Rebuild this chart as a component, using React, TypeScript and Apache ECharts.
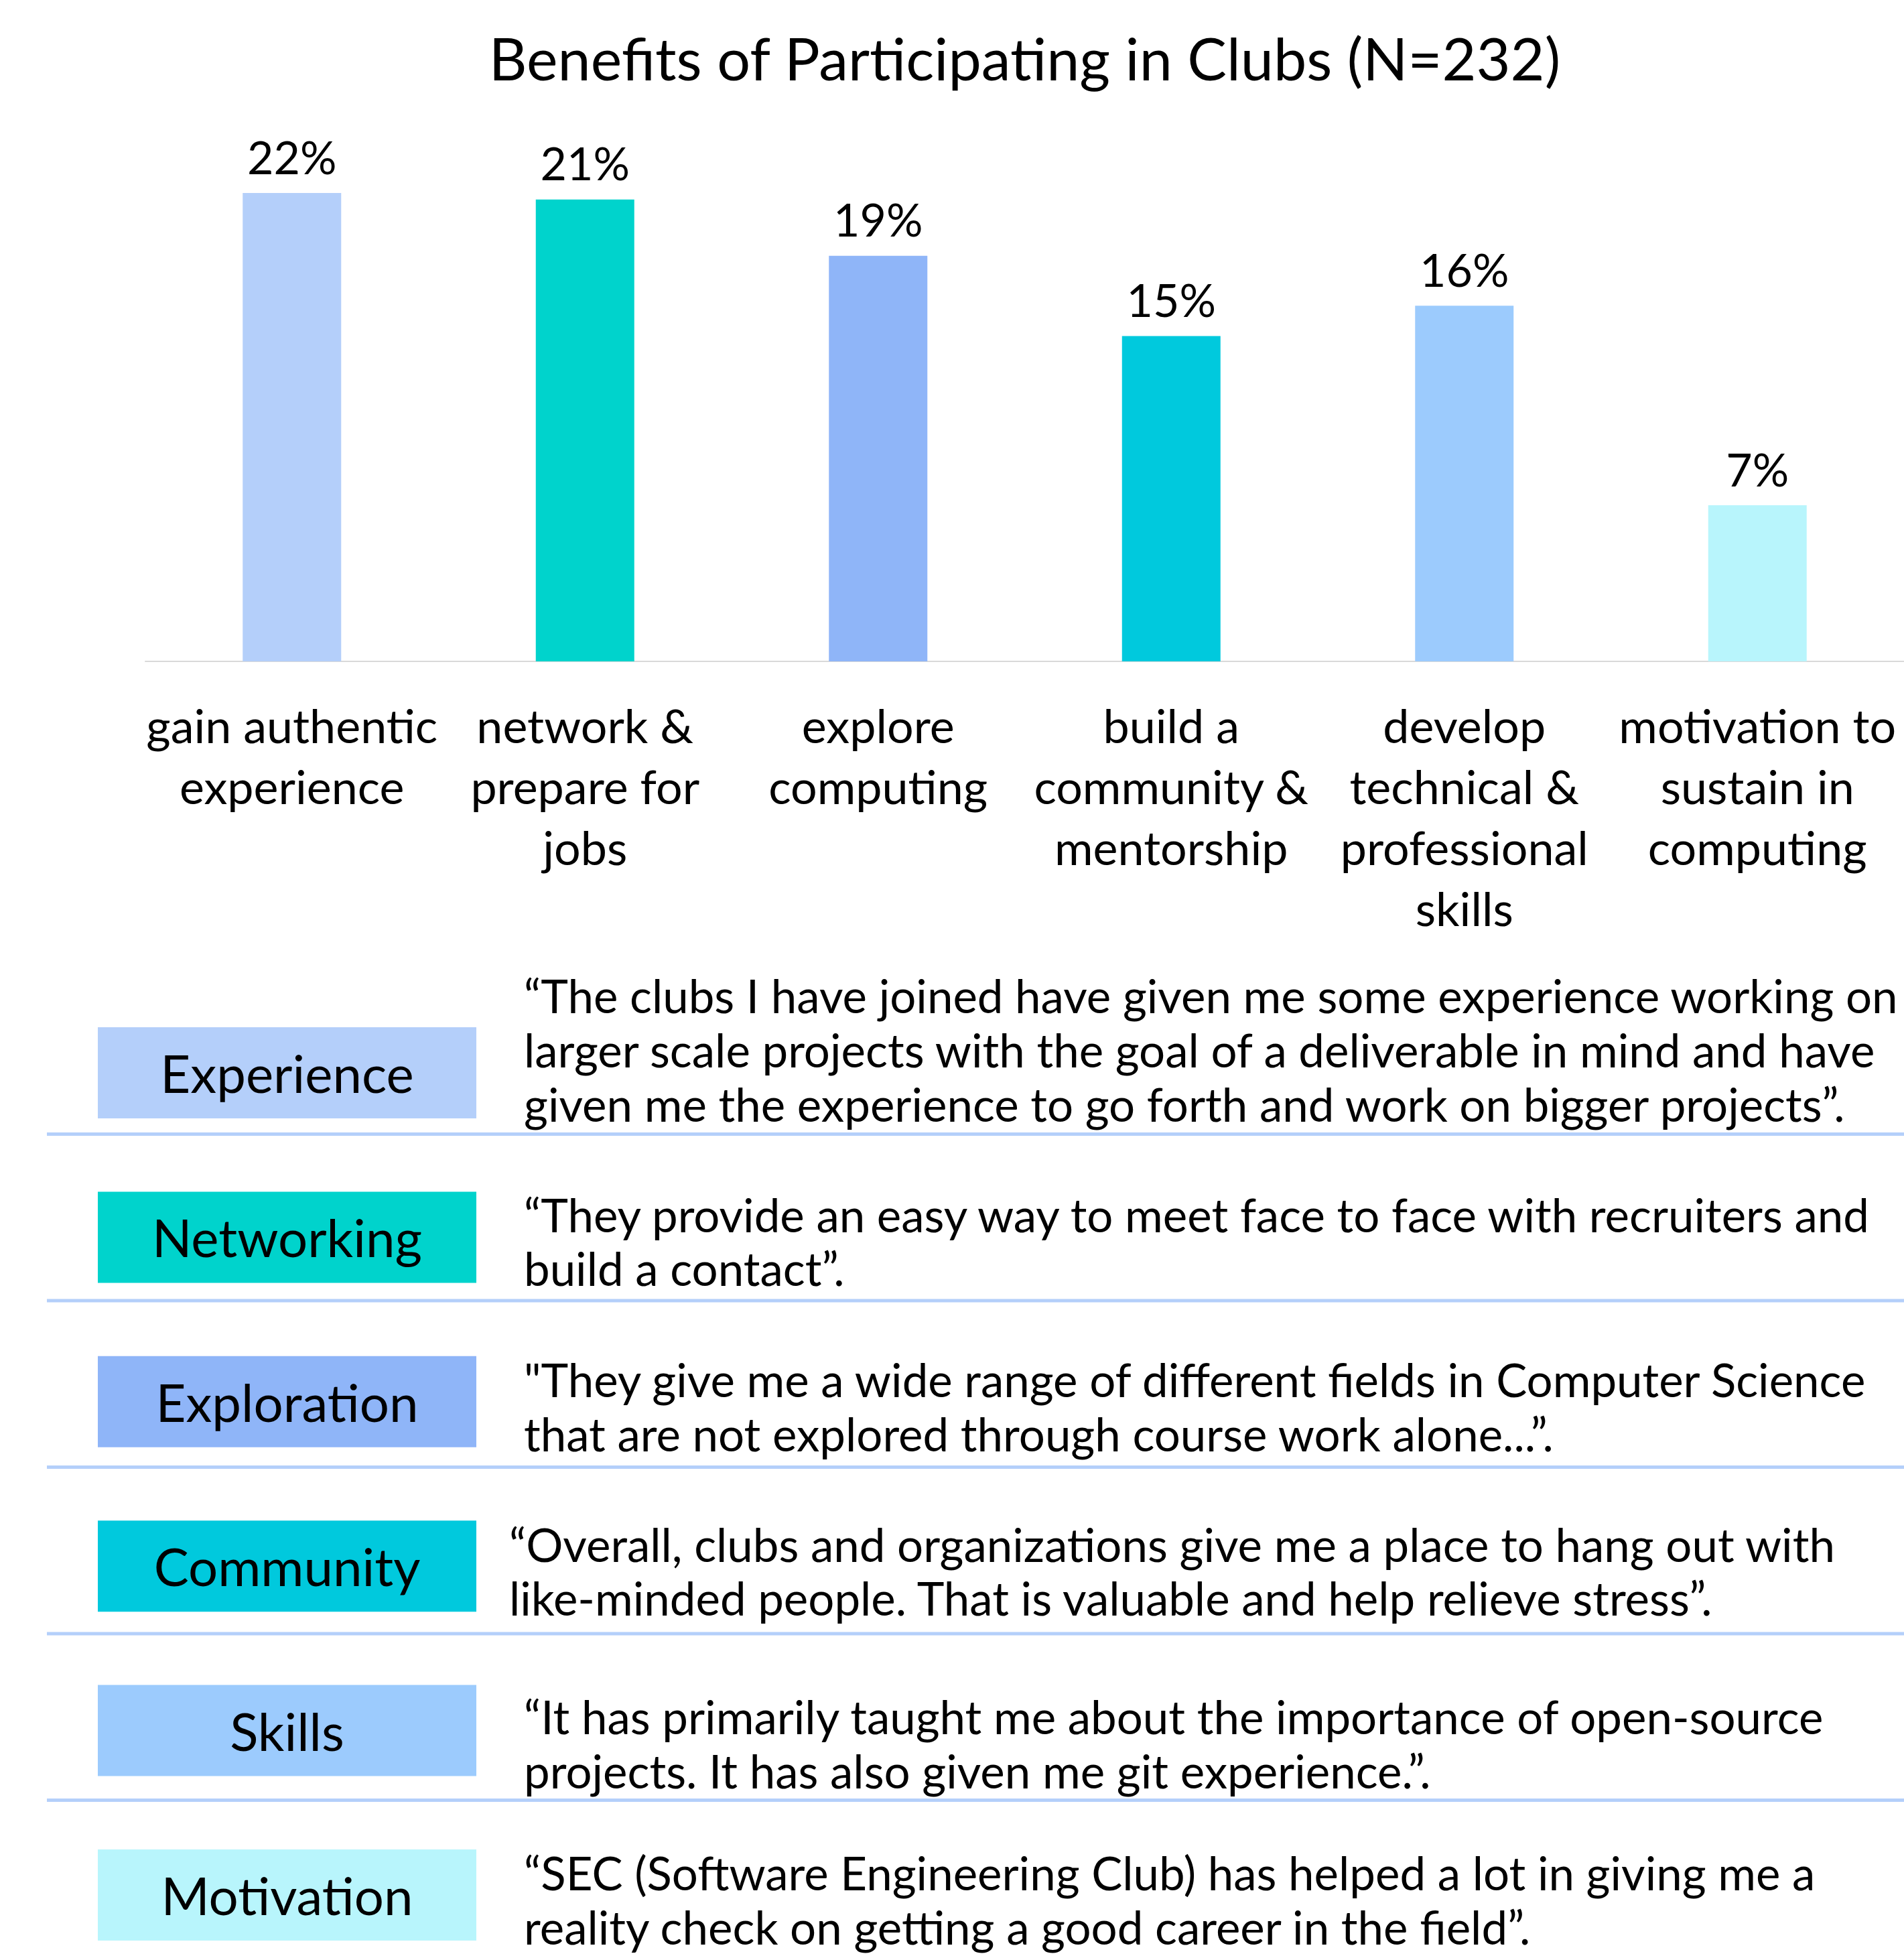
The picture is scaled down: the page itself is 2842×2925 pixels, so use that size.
import React, { useEffect, useRef } from "react";
import * as echarts from "echarts";

const titleText = "Benefits of Participating in Clubs (N=232)";
const categories = [
  "gain authentic\nexperience",
  "network &\nprepare for\njobs",
  "explore\ncomputing",
  "build a\ncommunity &\nmentorship",
  "develop\ntechnical &\nprofessional\nskills",
  "motivation to\nsustain in\ncomputing",
];
const shares = [21.6, 21.3, 18.7, 15.0, 16.4, 7.2];
const themeColors = ["#B4CFFA", "#00D3CC", "#8FB5F8", "#00C9DD", "#9CCBFD", "#B8F5FC"];
const themes = ["Experience", "Networking", "Exploration", "Community", "Skills", "Motivation"];
const quotes = [
  [
    "\u201CThe clubs I have joined have given me some experience working on",
    "larger scale projects with the goal of a deliverable in mind and have",
    "given me the experience to go forth and work on bigger projects\u201D.",
  ],
  [
    "\u201CThey provide an easy way to meet face to face with recruiters and",
    "build a contact\u201D.",
  ],
  [
    "\"They give me a wide range of different fields in Computer Science",
    "that are not explored through course work alone...\u201D.",
  ],
  [
    "\u201COverall, clubs and organizations give me a place to hang out with",
    "like-minded people. That is valuable and help relieve stress\u201D.",
  ],
  [
    "\u201CIt has primarily taught me about the importance of open-source",
    "projects. It has also given me git experience.\u201D.",
  ],
  [
    "\u201CSEC (Software Engineering Club) has helped a lot in giving me a",
    "reality check on getting a good career in the field\u201D.",
  ],
];

// layout (pixels)
const W = 2842;
const H = 2925;
const FONT = "Lato, 'Noto Sans', sans-serif";
const gridLeft = 217;
const axisY = 987;
const yMax = 25;
const gridTop = 178;
const boxX = 146;
const boxW = 565;
const boxH = 136;
const boxTop0 = 1533;
const boxStep = 245.4;
const sepTop0 = 1690;
const sepStep = 248.5;
const quoteX = [782, 782, 782, 760, 782, 782];
const quoteBase = [1510, 1837, 2083, 2329, 2586, 2819];
const quoteGap = [81, 80, 81, 80, 81, 81];
const quoteSize = 69;
const quoteCentral = 0.35;

export default function App() {
  const ref = useRef<HTMLDivElement>(null);
  useEffect(() => {
    if (!ref.current) return;
    const chart = echarts.init(ref.current, undefined, { renderer: "svg" });
    const graphic: any[] = [];
    graphic.push({
      type: "text",
      x: gridLeft + (W - gridLeft) / 2,
      y: 86,
      style: {
        text: titleText,
        fontFamily: FONT,
        fontSize: 88,
        fill: "#000",
        textAlign: "center",
        textVerticalAlign: "middle",
      },
    });
    for (let i = 0; i < themes.length - 1; i++) {
      graphic.push({
        type: "rect",
        shape: { x: 70, y: sepTop0 + sepStep * i, width: W - 70, height: 5 },
        style: { fill: "#B4CFFA" },
      });
    }
    themes.forEach((t, i) => {
      const top = boxTop0 + boxStep * i;
      graphic.push({
        type: "rect",
        shape: { x: boxX, y: top, width: boxW, height: boxH },
        style: { fill: themeColors[i] },
      });
      graphic.push({
        type: "text",
        x: boxX + boxW / 2,
        y: top + boxH / 2,
        style: {
          text: t,
          fontFamily: FONT,
          fontSize: 78,
          fill: "#000",
          textAlign: "center",
          textVerticalAlign: "middle",
        },
      });
      const gap = quoteGap[i];
      const firstCenter = quoteBase[i] - quoteCentral * quoteSize;
      graphic.push({
        type: "text",
        x: quoteX[i],
        y: firstCenter - gap / 2,
        style: {
          text: quotes[i].join("\n"),
          fontFamily: FONT,
          fontSize: quoteSize,
          lineHeight: gap,
          fill: "#000",
          textAlign: "left",
          textVerticalAlign: "top",
        },
      });
    });

    chart.setOption({
      animation: false,
      backgroundColor: "#fff",
      grid: { left: gridLeft, right: 0, top: gridTop, bottom: H - axisY, containLabel: false },
      xAxis: {
        type: "category",
        data: categories,
        axisTick: { show: false },
        axisLine: { lineStyle: { color: "#D9D9D9", width: 2 } },
        axisLabel: {
          interval: 0,
          color: "#000",
          fontFamily: FONT,
          fontSize: 70,
          lineHeight: 91,
          margin: 49,
          align: "center",
        },
      },
      yAxis: {
        type: "value",
        min: 0,
        max: yMax,
        show: false,
        splitLine: { show: false },
      },
      series: [
        {
          type: "bar",
          data: shares.map((v, i) => ({ value: v, itemStyle: { color: themeColors[i] } })),
          barWidth: "33.6%",
          label: {
            show: true,
            position: "top",
            distance: 21,
            color: "#000",
            fontFamily: FONT,
            fontSize: 68,
            lineHeight: 68,
            formatter: (p: any) => Math.round(p.value) + "%",
          },
        },
      ],
      graphic,
    });
    return () => chart.dispose();
  }, []);
  return (
    <div
      ref={ref}
      style={{ position: "absolute", left: 0, top: 0, width: W, height: H }}
    />
  );
}
